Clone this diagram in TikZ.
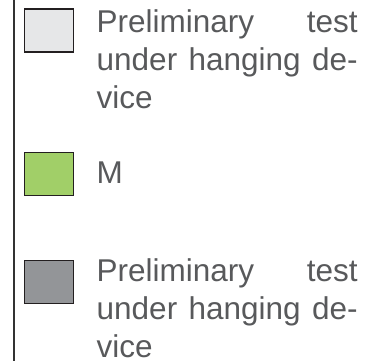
\documentclass[tikz,border=0pt]{standalone}
\usepackage{fontspec}
\setmainfont{Liberation Sans}
\definecolor{txtgray}{HTML}{58595B}
\definecolor{boxborder}{HTML}{231F20}
\definecolor{lightfill}{HTML}{E6E7E8}
\definecolor{greenfill}{HTML}{A1CF68}
\definecolor{darkfill}{HTML}{939598}
\definecolor{rulegray}{HTML}{333333}
\hyphenpenalty=10000
\begin{document}
\begin{tikzpicture}[x=1pt,y=1pt,
  keybox/.style={draw=boxborder, line width=1.4pt, minimum width=49pt, minimum height=43pt, inner sep=0pt, anchor=north west},
  keytext/.style={text=txtgray, anchor=base west, inner sep=0pt, text width=261pt, align=justify,
    font=\fontsize{31.5}{38}\selectfont}]
\useasboundingbox (0,0) rectangle (385,-361);
\coordinate (ltop) at (14,0);
\coordinate (lbot) at (14,-361);
\draw[rulegray, line width=1.6pt] (ltop) -- (lbot);
\node[keybox, fill=lightfill] (b1) at (23.5,-8.5) {};
\node[keybox, fill=greenfill] (b2) at (23.5,-151.5) {};
\node[keybox, fill=darkfill] (b3) at (23.5,-259.5) {};
\node[keytext] (t1) at (96.5,-33) {Preliminary test\linebreak under hanging de-\linebreak vice};
\node[keytext] (t2) at (96.5,-183) {M};
\node[keytext] (t3) at (96.5,-281) {Preliminary test\linebreak under hanging de-\linebreak vice};
\end{tikzpicture}
\end{document}
